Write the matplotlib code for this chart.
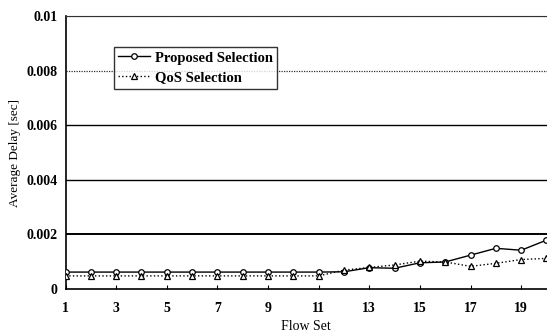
import matplotlib
matplotlib.use("Agg")
import matplotlib.pyplot as plt

flow_set = list(range(1, 21))
proposed = [0.00062, 0.00062, 0.00062, 0.00062, 0.00062, 0.00062, 0.00062, 0.00062,
            0.00062, 0.00062, 0.00062, 0.00063, 0.00078, 0.00076, 0.00096, 0.00099,
            0.00124, 0.00149, 0.00142, 0.00179]
qos = [0.00048, 0.00048, 0.00048, 0.00048, 0.00048, 0.00048, 0.00048, 0.00048,
       0.00048, 0.00048, 0.00048, 0.00069, 0.00079, 0.00088, 0.00102, 0.00099,
       0.00083, 0.00094, 0.00108, 0.00112]
y_ticks = [0, 0.002, 0.004, 0.006, 0.008, 0.01]
y_labels = ["0", "0.002", "0.004", "0.006", "0.008", "0.01"]
x_ticks = [1, 3, 5, 7, 9, 11, 13, 15, 17, 19]

plt.rcParams['font.family'] = ['Liberation Serif', 'DejaVu Serif']

fig = plt.figure(figsize=(5.47, 3.34), dpi=100)
ax = fig.add_axes([65.5 / 547, 1 - 289 / 334, (547 - 65.5) / 547, 273 / 334])

# horizontal grid lines
for v in y_ticks[1:]:
    if v >= 0.008:
        ax.axhline(v, color='#333333', lw=0.9, ls=(0, (1, 1)), zorder=1)
    else:
        ax.axhline(v, color='black', lw=1.0 if v > 0.002 else 1.4, zorder=1)

ax.plot(flow_set, proposed, '-', color='black', lw=1.0, marker='o', ms=4,
        mfc='white', mec='black', mew=0.9, label='Proposed Selection', zorder=3)
ax.plot(flow_set, qos, ':', color='black', lw=1.0, marker='^', ms=4,
        mfc='white', mec='black', mew=0.9, label='QoS Selection', zorder=3)

ax.set_xlim(1, 20.02)
ax.set_ylim(0, 0.01)
ax.set_xticks(x_ticks)
ax.set_xticklabels([str(t) for t in x_ticks], fontweight='bold', fontsize=10)
ax.set_yticks(y_ticks)
ax.set_yticklabels(y_labels, fontweight='bold', fontsize=10)
ax.tick_params(axis='x', direction='in', length=3, pad=9)
ax.tick_params(axis='y', length=0, pad=6)

ax.spines['right'].set_visible(False)
ax.spines['top'].set_linestyle((0, (1, 1)))
ax.spines['top'].set_color('#333333')
ax.spines['left'].set_linewidth(1.2)
ax.spines['bottom'].set_linewidth(1.2)

ax.set_xlabel('Flow Set', fontsize=10, labelpad=4)
ax.set_ylabel('Average Delay [sec]', fontsize=9.5)
ax.yaxis.set_label_coords((21 - 65.5) / 481.5, (289 - 153) / 273)

leg = ax.legend(loc='upper left', bbox_to_anchor=((114 - 65.5) / 481.5, (289 - 47) / 273),
                frameon=True, fancybox=False, edgecolor='black', fontsize=10.5,
                handlelength=2.2, handletextpad=0.3, borderpad=0.3, labelspacing=0.45,
                borderaxespad=0)
leg.get_frame().set_linewidth(1.0)
for t in leg.get_texts():
    t.set_fontweight('bold')

fig.savefig('out.png', dpi=100)
